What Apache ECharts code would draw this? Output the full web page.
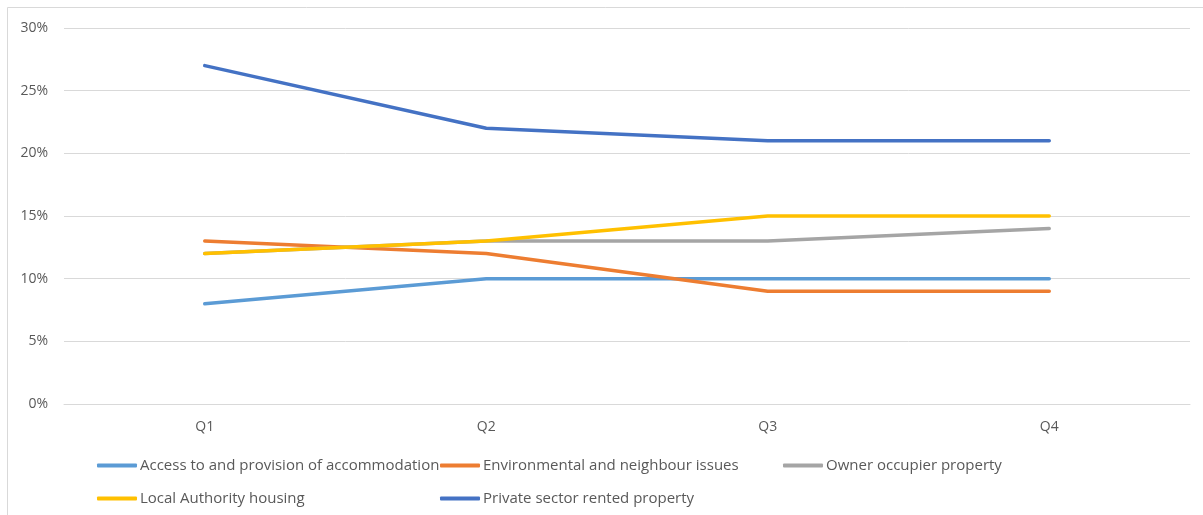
<!DOCTYPE html>
<html>
<head>
<meta charset="utf-8">
<script src="https://cdn.jsdelivr.net/npm/echarts@6/dist/echarts.min.js"></script>
<style>
  html, body { margin: 0; padding: 0; background: #ffffff; }
  #chart { width: 1203px; height: 515px; }
</style>
</head>
<body>
<div id="chart"></div>
<script>
// Quarterly share of complaints by category (%)
const quarters = ['Q1', 'Q2', 'Q3', 'Q4'];
const accessProvision = [8, 10, 10, 10];
const environmental = [13, 12, 9, 9];
const ownerOccupier = [12, 13, 13, 14];
const localAuthority = [12, 13, 15, 15];
const privateRented = [27, 22, 21, 21];

const seriesNames = [
  'Access to and provision of accommodation',
  'Environmental and neighbour issues',
  'Owner occupier property',
  'Local Authority housing',
  'Private sector rented property'
];
const seriesData = [accessProvision, environmental, ownerOccupier, localAuthority, privateRented];
const seriesColors = ['#5B9BD5', '#ED7D31', '#A5A5A5', '#FFC000', '#4472C4'];

const FONT = '"Open Sans", sans-serif';
const TEXT_COLOR = '#595959';

const chart = echarts.init(document.getElementById('chart'), null, { renderer: 'canvas' });

// Legend laid out in fixed columns, two rows
function legendColumn(names, left) {
  return {
    orient: 'vertical',
    left: left,
    top: 453,
    itemGap: 18,
    itemWidth: 40,
    itemHeight: 4,
    icon: 'roundRect',
    selectedMode: false,
    data: names,
    textStyle: { fontFamily: FONT, fontSize: 15, color: TEXT_COLOR, padding: [0, 0, 0, -2] }
  };
}

chart.setOption({
  animation: false,
  backgroundColor: '#ffffff',
  graphic: [{
    type: 'rect',
    shape: { x: 7.5, y: 7.5, width: 1300, height: 600 },
    style: { fill: 'none', stroke: '#d9d9d9', lineWidth: 1 },
    silent: true,
    z: -10
  }],
  grid: { left: 64, right: 13, top: 28, bottom: 111, containLabel: false },
  legend: [
    legendColumn([seriesNames[0], seriesNames[3]], 92),
    legendColumn([seriesNames[1], seriesNames[4]], 435),
    legendColumn([seriesNames[2]], 778)
  ],
  xAxis: {
    type: 'category',
    data: quarters,
    boundaryGap: true,
    axisLine: { show: true, lineStyle: { color: '#d9d9d9', width: 1 } },
    axisTick: { show: false },
    axisLabel: { fontFamily: FONT, fontSize: 14, color: TEXT_COLOR, margin: 16 }
  },
  yAxis: {
    type: 'value',
    min: 0,
    max: 30,
    interval: 5,
    axisLine: { show: false },
    axisTick: { show: false },
    splitLine: { lineStyle: { color: '#d9d9d9', width: 1 } },
    axisLabel: { fontFamily: FONT, fontSize: 14, color: TEXT_COLOR, margin: 16, formatter: '{value}%' }
  },
  series: seriesNames.map((name, i) => ({
    name: name,
    type: 'line',
    data: seriesData[i],
    color: seriesColors[i],
    showSymbol: false,
    symbol: 'none',
    lineStyle: { width: 3.5, color: seriesColors[i], cap: 'round', join: 'round' }
  }))
});
</script>
</body>
</html>
